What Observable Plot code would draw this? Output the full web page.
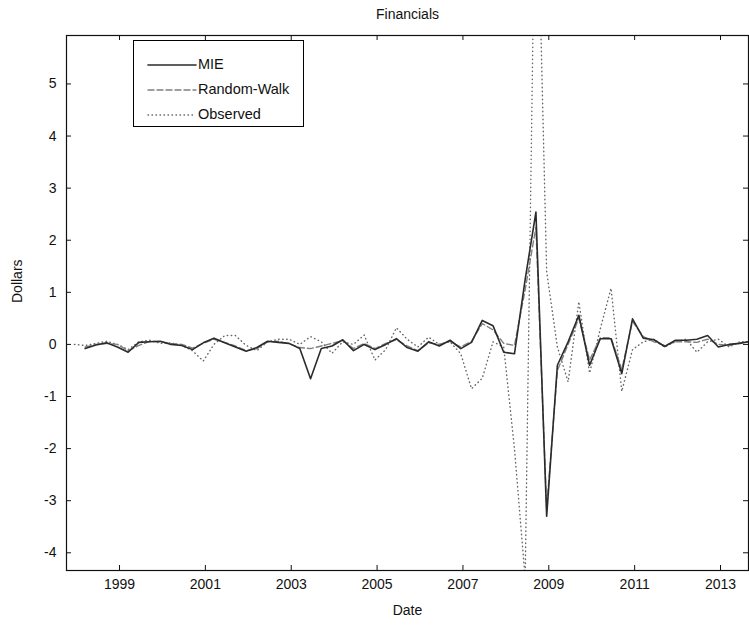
<!DOCTYPE html>
<html><head><meta charset="utf-8">
<script src="https://cdn.jsdelivr.net/npm/d3@7"></script>
<script src="https://cdn.jsdelivr.net/npm/@observablehq/plot@0.6"></script>
<style>
body{margin:0;background:#fff;}
#wrap{position:relative;width:749px;height:629px;font-family:"Liberation Sans",Arial,sans-serif;}
#legend{position:absolute;left:133px;top:40px;width:171px;height:87px;border:1px solid #000;background:#fff;font-size:14.5px;color:#111;box-sizing:border-box;}
.row{position:absolute;left:0;height:20px;width:100%;}
.row svg{position:absolute;left:12px;top:0;}
.row span{position:absolute;left:64px;top:1px;}
</style></head><body><div id="wrap"></div>
<script>
const dates = [1997.95,
 1998.2,1998.45,1998.7,1998.95, 1999.2,1999.45,1999.7,1999.95, 2000.2,2000.45,2000.7,2000.95,
 2001.2,2001.45,2001.7,2001.95, 2002.2,2002.45,2002.7,2002.95, 2003.2,2003.45,2003.7,2003.95,
 2004.2,2004.45,2004.7,2004.95, 2005.2,2005.45,2005.7,2005.95, 2006.2,2006.45,2006.7,2006.95,
 2007.2,2007.45,2007.7,2007.95, 2008.2,2008.45,2008.7,2008.95, 2009.2,2009.45,2009.7,2009.95,
 2010.2,2010.45,2010.7,2010.95, 2011.2,2011.45,2011.7,2011.95, 2012.2,2012.45,2012.7,2012.95,
 2013.2,2013.45,2013.7];
const mie = [null,
 -0.08,-0.01,0.03,-0.05, -0.15,0.04,0.05,0.06, 0.00,-0.02,-0.10,0.03,
 0.12,0.03,-0.05,-0.13, -0.06,0.06,0.04,0.02, -0.08,-0.66,-0.08,-0.03,
 0.09,-0.12,0.00,-0.10, 0.00,0.11,-0.06,-0.13, 0.05,-0.03,0.08,-0.08,
 0.04,0.46,0.36,-0.15, -0.18,1.25,2.54,-3.30, -0.40,0.05,0.56,-0.40,
 0.11,0.11,-0.56,0.49, 0.12,0.09,-0.04,0.08, 0.08,0.10,0.17,-0.05,
 0.00,0.02,0.06];
const randomWalk = [null,
 -0.05,0.00,0.02,0.00, -0.12,-0.02,0.06,0.05, 0.02,0.00,-0.07,0.02,
 0.10,0.04,-0.03,-0.12, -0.08,0.05,0.06,0.01, -0.06,-0.08,-0.03,0.02,
 0.07,-0.08,0.02,-0.08, 0.02,0.09,-0.03,-0.12, 0.03,0.00,0.06,-0.05,
 0.06,0.40,0.28,0.02, -0.02,1.05,2.25,-3.15, -0.50,0.00,0.50,-0.30,
 0.13,0.13,-0.48,0.44, 0.15,0.05,-0.02,0.05, 0.05,0.04,0.10,0.00,
 -0.02,0.03,0.05];
const observed = [0.00,
 -0.02,0.02,0.06,0.00, -0.10,0.05,0.08,0.02, 0.03,-0.02,-0.12,-0.32,
 0.00,0.17,0.17,-0.02, -0.12,0.05,0.10,0.10, 0.00,0.15,0.05,-0.17,
 0.05,0.00,0.18,-0.30, -0.10,0.32,0.10,-0.05, 0.14,0.00,0.05,-0.18,
 -0.85,-0.65,0.05,-0.05, -2.00,-4.50,10.00,1.40, -0.05,-0.72,0.82,-0.55,
 0.30,1.08,-0.90,-0.10, 0.05,0.10,-0.05,0.05, 0.10,-0.15,0.05,0.10,
 -0.05,0.05,0.05];
const xTicks = [1999, 2001, 2003, 2005, 2007, 2009, 2011, 2013];
const yTicks = [-4, -3, -2, -1, 0, 1, 2, 3, 4, 5];
const seriesNames = ["MIE", "Random-Walk", "Observed"];
const titleText = "Financials";
const xLabel = "Date";
const yLabel = "Dollars";

const rows = dates.map((d, i) => ({date: d, mie: mie[i], rw: randomWalk[i], obs: observed[i]}));

const W = 749, H = 629, mt = 35, mb = 59, ml = 66, mr = 1;
const frameH = H - mt - mb, frameW = W - ml - mr;
const tk = 5;

const chart = Plot.plot({
  width: W, height: H,
  marginTop: mt, marginBottom: mb, marginLeft: ml, marginRight: mr,
  style: {fontFamily: '"Liberation Sans", Arial, sans-serif', fontSize: "14px", background: "#fff", color: "#111"},
  x: {domain: [1997.765, 2013.652], ticks: xTicks, tickFormat: d => String(d), tickSize: 0, tickPadding: 9, label: null},
  y: {domain: [-4.34, 5.93], ticks: yTicks, tickFormat: d => String(d), tickSize: 0, tickPadding: 10, label: null},
  marks: [
    Plot.line(rows, {x: "date", y: "obs", stroke: "#666", strokeWidth: 1.4, strokeDasharray: "0.5,3.5", strokeLinecap: "round", clip: true}),
    Plot.line(rows, {x: "date", y: "rw", stroke: "#808080", strokeWidth: 1.4, strokeDasharray: "6,3", clip: true}),
    Plot.line(rows, {x: "date", y: "mie", stroke: "#2b2b2b", strokeWidth: 1.6, clip: true}),
    Plot.tickX(xTicks, {x: d => d, insetTop: frameH - tk, stroke: "#111"}),
    Plot.tickX(xTicks, {x: d => d, insetBottom: frameH - tk, stroke: "#111"}),
    Plot.tickY(yTicks, {y: d => d, insetRight: frameW - tk, stroke: "#111"}),
    Plot.tickY(yTicks, {y: d => d, insetLeft: frameW - tk, stroke: "#111"}),
    Plot.frame({stroke: "#111", strokeWidth: 1.2}),
    Plot.text([titleText], {text: d => d, frameAnchor: "top", dy: -26, fontSize: 14}),
    Plot.text([xLabel], {text: d => d, frameAnchor: "bottom", dy: 44, fontSize: 14}),
    Plot.text([yLabel], {text: d => d, frameAnchor: "left", dx: -49, rotate: -90, fontSize: 14})
  ]
});
const wrap = document.getElementById("wrap");
wrap.appendChild(chart);

const styles = [
  {stroke: "#2b2b2b", dash: null, w: 1.6},
  {stroke: "#808080", dash: "6,3", w: 1.4},
  {stroke: "#666", dash: "0.5,3.5", w: 1.4}
];
const leg = document.createElement("div");
leg.id = "legend";
seriesNames.forEach((name, i) => {
  const r = document.createElement("div");
  r.className = "row";
  r.style.top = (14 + i * 25) + "px";
  const s = styles[i];
  r.innerHTML = `<svg width="52" height="20"><line x1="2" x2="50" y1="10" y2="10" stroke="${s.stroke}" stroke-width="${s.w}" ${s.dash ? `stroke-dasharray="${s.dash}"` : ""} stroke-linecap="round"/></svg><span>${name}</span>`;
  leg.appendChild(r);
});
wrap.appendChild(leg);
</script>
</body></html>
